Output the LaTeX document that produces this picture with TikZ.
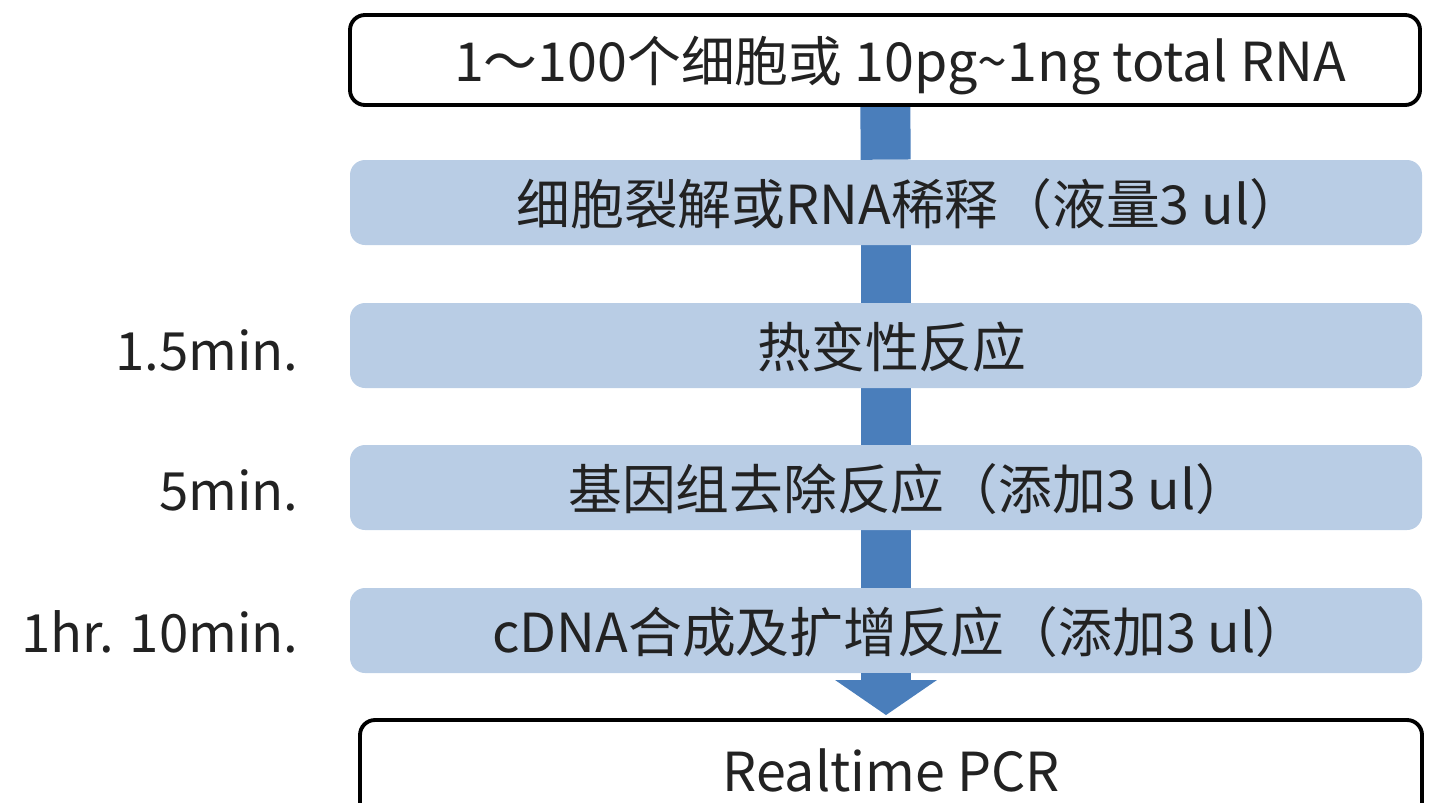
\documentclass[tikz,border=0pt]{standalone}
\usepackage{fontspec}
\setmainfont{Noto Sans CJK SC}
\usetikzlibrary{arrows.meta,backgrounds}
\definecolor{stepblue}{HTML}{B9CDE5}
\definecolor{shaftblue}{HTML}{4A7EBB}
\definecolor{inkgrey}{HTML}{222222}

\begin{document}
\begin{tikzpicture}[
					every node/.style = {
						font = \fontsize{30.6}{36}\selectfont,
						text = inkgrey,
					},
					outbox/.style = {
						shape = rectangle,
						draw = black,
						line width = 2.2pt,
						rounded corners = 0.3cm,
						minimum width = 21.4cm,
						minimum height = 1.8cm,
						text height = 25pt,
						text depth = 0pt,
					},
					stepbox/.style = {
						shape = rectangle,
						fill = stepblue,
						rounded corners = 0.3cm,
						minimum width = 21.44cm,
						minimum height = 1.7cm,
						text height = 25pt,
						text depth = 0pt,
					},
					timelabel/.style = {
						anchor = east,
						inner sep = 0pt,
						font = \fontsize{30}{36}\selectfont,
					},
					shaft/.style = {
						draw = shaftblue,
						line width = 1cm,
					},
			]
				\useasboundingbox (0, 0) rectangle (28.82, -16.04);

				\node (src) [outbox, fill = white] at (17.7, -1.2) {\hspace*{0.6cm}1～100个细胞或 10pg\textasciitilde 1ng total RNA};
				\node (b1) [stepbox] at (17.72, -4.05) {\hspace*{0.96cm}细胞裂解或RNA稀释（液量3 ul）};
				\node (b2) [stepbox] at (17.72, -6.91) {\hspace*{0.24cm}热变性反应};
				\node (b3) [stepbox] at (17.72, -9.75) {\hspace*{0.92cm}基因组去除反应（添加3 ul）};
				\node (b4) [stepbox] at (17.72, -12.61) {\hspace*{0.6cm}cDNA合成及扩增反应（添加3 ul）};
				\node (pcr) [outbox, minimum width = 21.24cm, minimum height = 2cm] at (17.82, -15.4) {Realtime PCR};

				\node (t2) [timelabel] at (5.98, -7.0) {1.5min.};
				\node (t3) [timelabel] at (5.98, -9.8) {5min.};
				\node (t4) [timelabel] at (5.98, -12.64) {1hr. 10min.};

				\begin{scope}[on background layer]
					\draw[shaft] (src) -- (b1);
					\draw[shaft] (b1) -- (b2);
					\draw[shaft] (b2) -- (b3);
					\draw[shaft] (b3) -- (b4);
				\end{scope}
				\draw[shaft, -{Triangle[width = 2cm, length = 0.7cm]}, shorten > = 0.06cm]
					(b4.south) -- (b4.south |- pcr.north);
			\end{tikzpicture}
\end{document}
